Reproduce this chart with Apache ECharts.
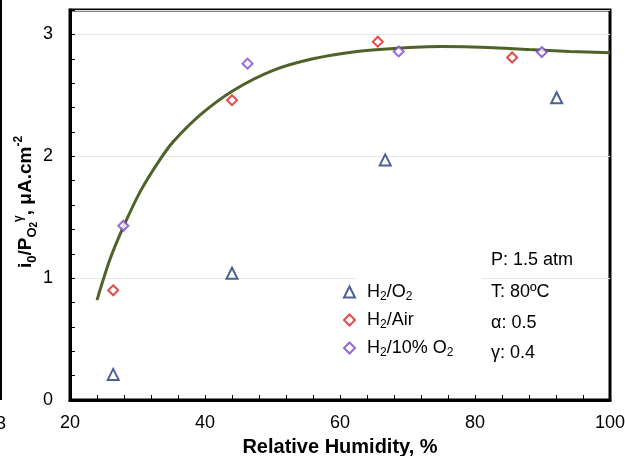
<!DOCTYPE html>
<html>
<head>
<meta charset="utf-8">
<script src="https://cdn.jsdelivr.net/npm/echarts@6/dist/echarts.min.js"></script>
<style>html,body{margin:0;padding:0;background:#fff}#c{width:625px;height:456px}</style>
</head>
<body>
<div id="c"></div>
<script>
// ---- data ----
const seriesNames = ['H2/O2', 'H2/Air', 'H2/10% O2'];
const rhO2 = [26.4, 44.0, 66.7, 92.1];
const valO2 = [0.21, 1.04, 1.97, 2.48];
const rhAir = [26.4, 44.0, 65.6, 85.5];
const valAir = [0.90, 2.46, 2.94, 2.81];
const rh10 = [27.9, 46.3, 68.7, 89.9];
const val10 = [1.43, 2.76, 2.86, 2.855];
const fitX = [24.0, 25.9, 27.9, 30.4, 33.3, 35.3, 39.3, 44.2, 50.1, 56.0, 62.5, 68.0, 75.0, 82.0, 88.0, 94.0, 100];
const fitY = [0.82, 1.15, 1.42, 1.71, 1.97, 2.12, 2.34, 2.54, 2.705, 2.80, 2.86, 2.885, 2.90, 2.893, 2.875, 2.86, 2.85];
const xTickLabels = [20, 40, 60, 80, 100];
const yTickLabels = [0, 1, 2, 3];
const noteLines = ['P: 1.5 atm', 'T: 80ºC', 'α: 0.5', 'γ: 0.4'];

const FONT = 'Liberation Sans, Arial, sans-serif';
const pair = (xs, ys) => xs.map((x, i) => [x, ys[i]]);
const legendRich = {
  'H2/O2': '{g|}{n|H}{s|2}{n|/O}{s|2}',
  'H2/Air': '{g|}{n|H}{s|2}{n|/Air}',
  'H2/10% O2': '{g|}{n|H}{s|2}{n|/10% O}{s|2}'
};

const chart = echarts.init(document.getElementById('c'), null, {renderer: 'canvas'});
chart.setOption({
  animation: false,
  backgroundColor: '#fff',
  textStyle: {fontFamily: FONT},
  grid: {left: 70, right: 15, top: 10, bottom: 56, containLabel: false, outerBoundsMode: 'none',
    show: true, borderColor: '#000', borderWidth: 3, backgroundColor: 'transparent'},
  xAxis: {
    type: 'value', min: 20, max: 100, interval: 4,
    axisLine: {lineStyle: {color: '#000', width: 3}},
    axisTick: {inside: true, length: 5, lineStyle: {color: '#000', width: 1}},
    axisLabel: {color: '#000', fontSize: 18, fontFamily: FONT, margin: 14,
      formatter: v => xTickLabels.indexOf(Math.round(v)) >= 0 && Math.abs(v - Math.round(v)) < 1e-6 ? String(Math.round(v)) : ''},
    splitLine: {show: false},
    name: 'Relative Humidity, %', nameLocation: 'middle', nameGap: 37,
    nameTextStyle: {color: '#000', fontSize: 20, fontWeight: 'bold', fontFamily: FONT}
  },
  yAxis: [{
    type: 'value', min: 0, max: 3.2, interval: 0.2,
    axisLine: {lineStyle: {color: '#000', width: 3}},
    axisTick: {inside: true, length: 5, lineStyle: {color: '#000', width: 1}},
    axisLabel: {color: '#000', fontSize: 18, fontFamily: FONT, margin: 17,
      formatter: v => { const r = Math.round(v); return (Math.abs(v - r) < 1e-6 && yTickLabels.indexOf(r) >= 0) ? String(r) : ''; }},
    splitLine: {show: false}
  }, {
    type: 'value', min: 0, max: 3.2, interval: 1, position: 'left',
    axisLine: {show: false}, axisTick: {show: false}, axisLabel: {show: false},
    splitLine: {show: true, lineStyle: {color: '#e6e6e6', width: 1}}
  }],
  legend: {
    data: seriesNames, orient: 'vertical', left: 343, top: 283,
    itemWidth: 11, itemHeight: 11, itemGap: 8, padding: 0,
    formatter: n => legendRich[n],
    textStyle: {color: '#000', fontFamily: FONT, rich: {
      g: {width: 7},
      n: {fontSize: 18, lineHeight: 22, color: '#000', fontFamily: FONT},
      s: {fontSize: 12, lineHeight: 12, verticalAlign: 'bottom', color: '#000', fontFamily: FONT}
    }}
  },
  graphic: [
    {type: 'rect', z: 1, shape: {x: 357, y: 276, width: 125, height: 94}, style: {fill: '#fff'}},
    {type: 'rect', z: 1, shape: {x: 0, y: 0, width: 2, height: 400}, style: {fill: '#000'}},
    {type: 'text', z: 1, x: -4, y: 424, style: {text: '3', fontSize: 18, fontFamily: FONT, fill: '#000', verticalAlign: 'middle', align: 'left'}},
    {type: 'text', z: 5, x: 26, y: 202, rotation: Math.PI / 2,
      style: {
        text: '{b|i}{s|0}{b|/P}{s|O}{ss|2}{sp|γ}{b|, μA.cm}{sp|-2}',
        align: 'center', verticalAlign: 'middle', fill: '#000',
        rich: {
          b: {fontSize: 19, fontWeight: 'bold', lineHeight: 26, fontFamily: FONT, fill: '#000'},
          s: {fontSize: 13, fontWeight: 'bold', lineHeight: 13, verticalAlign: 'bottom', fontFamily: FONT, fill: '#000'},
          ss: {fontSize: 10, fontWeight: 'bold', lineHeight: 9, verticalAlign: 'bottom', fontFamily: FONT, fill: '#000'},
          sp: {fontSize: 12, fontWeight: 'bold', lineHeight: 13, verticalAlign: 'top', fontFamily: FONT, fill: '#000'}
        }
      }},
    ...noteLines.map((t, i) => ({type: 'text', z: 5, x: 491, y: [260, 292, 323, 353][i],
      style: {text: t, fontSize: 18, fontFamily: FONT, fill: '#000', align: 'left', verticalAlign: 'middle'}}))
  ],
  series: [
    {name: 'fit', type: 'line', data: pair(fitX, fitY), smooth: 0.3, showSymbol: false, symbol: 'none',
      lineStyle: {color: '#4F6228', width: 3}, z: 3, silent: true},
    {name: seriesNames[0], type: 'scatter', data: pair(rhO2, valO2), symbol: 'emptyTriangle', symbolSize: 11,
      itemStyle: {color: '#1F3A78', borderWidth: 1.3}, z: 4},
    {name: seriesNames[1], type: 'scatter', data: pair(rhAir, valAir), symbol: 'emptyDiamond', symbolSize: 10,
      itemStyle: {color: '#E01E1E', borderWidth: 1.3}, z: 4},
    {name: seriesNames[2], type: 'scatter', data: pair(rh10, val10), symbol: 'emptyDiamond', symbolSize: 10,
      itemStyle: {color: '#7B45C8', borderWidth: 1.3}, z: 4}
  ]
});
</script>
</body>
</html>
